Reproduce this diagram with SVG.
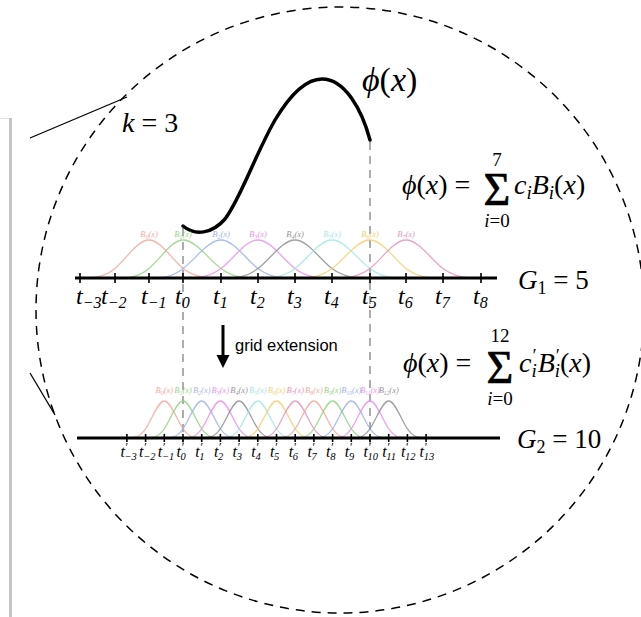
<svg xmlns="http://www.w3.org/2000/svg" xmlns:xlink="http://www.w3.org/1999/xlink" width="641" height="617" viewBox="0 0 641 617">
<style>
.m{font-family:"Liberation Serif","DejaVu Serif",serif;fill:#000}
.it{font-style:italic}
.axis{stroke:#000;stroke-width:3;fill:none}
.tick{stroke:#000;stroke-width:1.6}
.guide{stroke:#8a8a8a;stroke-width:1.4;stroke-dasharray:8 6;fill:none}
.c0{stroke:#f2a398;fill:#f2a398}.c1{stroke:#8fcf7a;fill:#8fcf7a}.c2{stroke:#98aee8;fill:#98aee8}.c3{stroke:#e58be8;fill:#e58be8}
.c4{stroke:#8a8a8a;fill:#8a8a8a}.c5{stroke:#9fe3e3;fill:#9fe3e3}.c6{stroke:#f2cc66;fill:#f2cc66}.c7{stroke:#e38fb8;fill:#e38fb8}
path.bs,use.bs{fill:none;stroke-width:1.3;opacity:0.8}
text.bl{font-family:"Liberation Serif","DejaVu Serif",serif;font-style:italic;font-size:8.5px;text-anchor:middle;stroke:none;opacity:0.9}
.tl{font-family:"Liberation Serif","DejaVu Serif",serif;font-style:italic;font-size:24px}
.tl2{font-family:"Liberation Serif","DejaVu Serif",serif;font-style:italic;font-size:16px}
.sig{font-family:"Liberation Serif","DejaVu Serif",serif;font-size:46px;text-anchor:middle;stroke:#000;stroke-width:0.7}
.lim{font-family:"Liberation Serif","DejaVu Serif",serif;font-size:19px;text-anchor:middle}
</style>
<defs>
<path id="bs2" d="M0,438 c6.233,0 12.467,0 18.7,-9.25 c6.233,-9.25 12.467,-27.75 18.7,-27.75 c6.233,0 12.467,18.5 18.7,27.75 c6.233,9.25 12.467,9.25 18.7,9.25"/>
</defs>

<g id="panel-edge">
<line x1="0" y1="118.5" x2="10" y2="118.5" stroke="#e2e2e2" stroke-width="1"/>
<line x1="10.5" y1="118" x2="10.5" y2="617" stroke="#c4c4c4" stroke-width="3"/>
</g>

<g id="zoom-circle">
<ellipse cx="340" cy="310" rx="304" ry="303" fill="none" stroke="#000" stroke-width="1.5" stroke-dasharray="9 7"/>
</g>

<g id="connectors">
<line x1="30" y1="138" x2="127" y2="97" stroke="#000" stroke-width="1.3"/>
<line x1="30" y1="373" x2="55" y2="415" stroke="#000" stroke-width="1.3"/>
<line class="guide" x1="183" y1="228" x2="183" y2="443"/>
<line class="guide" x1="370" y1="142" x2="370" y2="443"/>
</g>

<g id="phi-curve">
<path d="M183,226 C195,236 212,234 225,219 C240,200 255,155 275,120 C290,95 305,79 322,79 C345,79 362,110 370,140" fill="none" stroke="#000" stroke-width="3.5" stroke-linecap="round"/>
<text class="m" x="362" y="91" font-size="34"><tspan class="it">ϕ</tspan>(<tspan class="it">x</tspan>)</text>
</g>

<g id="k-label">
<text class="m" x="122" y="132" font-size="28"><tspan class="it">k</tspan> = 3</text>
</g>

<g id="basis-G1">
<path class="bs c0" d="M80,278 C91.7,278 103.3,278 115,268.5 C126.3,259 137.7,240 149,240 C160.3,240 171.7,259 183,268.5 C195.7,278 208.3,278 221,278"/>
<path class="bs c1" d="M115,278 C126.3,278 137.7,278 149,268.5 C160.3,259 171.7,240 183,240 C195.7,240 208.3,259 221,268.5 C233.3,278 245.7,278 258,278"/>
<path class="bs c2" d="M149,278 C160.3,278 171.7,278 183,268.5 C195.7,259 208.3,240 221,240 C233.3,240 245.7,259 258,268.5 C270.3,278 282.7,278 295,278"/>
<path class="bs c3" d="M183,278 C195.7,278 208.3,278 221,268.5 C233.3,259 245.7,240 258,240 C270.3,240 282.7,259 295,268.5 C307.3,278 319.7,278 332,278"/>
<path class="bs c4" d="M221,278 C233.3,278 245.7,278 258,268.5 C270.3,259 282.7,240 295,240 C307.3,240 319.7,259 332,268.5 C344.7,278 357.3,278 370,278"/>
<path class="bs c5" d="M258,278 C270.3,278 282.7,278 295,268.5 C307.3,259 319.7,240 332,240 C344.7,240 357.3,259 370,268.5 C382,278 394,278 406,278"/>
<path class="bs c6" d="M295,278 C307.3,278 319.7,278 332,268.5 C344.7,259 357.3,240 370,240 C382,240 394,259 406,268.5 C418.3,278 430.7,278 443,278"/>
<path class="bs c7" d="M332,278 C344.7,278 357.3,278 370,268.5 C382,259 394,240 406,240 C418.3,240 430.7,259 443,268.5 C455.7,278 468.3,278 481,278"/>
<text class="bl c0" x="149" y="237">B<tspan font-size="6" dy="2">0</tspan><tspan dy="-2">(x)</tspan></text>
<text class="bl c1" x="183" y="237">B<tspan font-size="6" dy="2">1</tspan><tspan dy="-2">(x)</tspan></text>
<text class="bl c2" x="221" y="237">B<tspan font-size="6" dy="2">2</tspan><tspan dy="-2">(x)</tspan></text>
<text class="bl c3" x="258" y="237">B<tspan font-size="6" dy="2">3</tspan><tspan dy="-2">(x)</tspan></text>
<text class="bl c4" x="295" y="237">B<tspan font-size="6" dy="2">4</tspan><tspan dy="-2">(x)</tspan></text>
<text class="bl c5" x="332" y="237">B<tspan font-size="6" dy="2">5</tspan><tspan dy="-2">(x)</tspan></text>
<text class="bl c6" x="370" y="237">B<tspan font-size="6" dy="2">6</tspan><tspan dy="-2">(x)</tspan></text>
<text class="bl c7" x="406" y="237">B<tspan font-size="6" dy="2">7</tspan><tspan dy="-2">(x)</tspan></text>
</g>

<g id="axis-G1">
<line class="axis" x1="75" y1="278" x2="497" y2="278"/>
<path class="tick" d="M80,273v10M115,273v10M149,273v10M183,273v10M221,273v10M258,273v10M295,273v10M332,273v10M370,273v10M406,273v10M443,273v10M481,273v10"/>
<text class="tl" x="76" y="304">t<tspan font-size="16" dy="4">−3</tspan></text>
<text class="tl" x="101" y="304">t<tspan font-size="16" dy="4">−2</tspan></text>
<text class="tl" x="141" y="304">t<tspan font-size="16" dy="4">−1</tspan></text>
<text class="tl" x="175" y="304">t<tspan font-size="16" dy="4">0</tspan></text>
<text class="tl" x="213" y="304">t<tspan font-size="16" dy="4">1</tspan></text>
<text class="tl" x="250" y="304">t<tspan font-size="16" dy="4">2</tspan></text>
<text class="tl" x="287" y="304">t<tspan font-size="16" dy="4">3</tspan></text>
<text class="tl" x="324" y="304">t<tspan font-size="16" dy="4">4</tspan></text>
<text class="tl" x="362" y="304">t<tspan font-size="16" dy="4">5</tspan></text>
<text class="tl" x="398" y="304">t<tspan font-size="16" dy="4">6</tspan></text>
<text class="tl" x="435" y="304">t<tspan font-size="16" dy="4">7</tspan></text>
<text class="tl" x="473" y="304">t<tspan font-size="16" dy="4">8</tspan></text>
<text class="m" x="518" y="289" font-size="27"><tspan class="it">G</tspan><tspan font-size="18" dy="5">1</tspan><tspan dy="-5"> = 5</tspan></text>
</g>

<g id="formula-G1">
<text class="m" x="402" y="194" font-size="28"><tspan class="it">ϕ</tspan>(<tspan class="it">x</tspan>) =</text>
<text class="sig" x="497" y="205">Σ</text>
<text class="lim" x="497" y="166">7</text>
<text class="lim" x="497" y="227"><tspan class="it">i</tspan>=0</text>
<text class="m it" x="514" y="194" font-size="28">c<tspan font-size="19" dy="5">i</tspan><tspan dy="-5">B</tspan><tspan font-size="19" dy="5">i</tspan><tspan dy="-5" font-style="normal">(</tspan>x<tspan font-style="normal">)</tspan></text>
</g>

<g id="grid-extension">
<line x1="223" y1="325" x2="223" y2="357" stroke="#000" stroke-width="3"/>
<polygon points="216.5,355 229.5,355 223,368" fill="#000"/>
<text x="235" y="351" font-family="Liberation Sans, Arial, sans-serif" font-size="16.5">grid extension</text>
</g>

<g id="formula-G2">
<text class="m" x="403" y="372" font-size="28"><tspan class="it">ϕ</tspan>(<tspan class="it">x</tspan>) =</text>
<text class="sig" x="500" y="383">Σ</text>
<text class="lim" x="500" y="342">12</text>
<text class="lim" x="500" y="405"><tspan class="it">i</tspan>=0</text>
<text class="m it" x="519" y="372" font-size="28">c<tspan font-size="18" dy="-10">′</tspan><tspan font-size="19" dx="-4" dy="15">i</tspan><tspan dy="-5" dx="1">B</tspan><tspan font-size="18" dy="-10">′</tspan><tspan font-size="19" dx="-4" dy="15">i</tspan><tspan dy="-5" font-style="normal">(</tspan>x<tspan font-style="normal">)</tspan></text>
</g>

<g id="basis-G2">
<use xlink:href="#bs2" class="bs c0" x="126.9"/>
<use xlink:href="#bs2" class="bs c1" x="145.6"/>
<use xlink:href="#bs2" class="bs c2" x="164.3"/>
<use xlink:href="#bs2" class="bs c3" x="183"/>
<use xlink:href="#bs2" class="bs c4" x="201.7"/>
<use xlink:href="#bs2" class="bs c5" x="220.4"/>
<use xlink:href="#bs2" class="bs c6" x="239.1"/>
<use xlink:href="#bs2" class="bs c7" x="257.8"/>
<use xlink:href="#bs2" class="bs c0" x="276.5"/>
<use xlink:href="#bs2" class="bs c1" x="295.2"/>
<use xlink:href="#bs2" class="bs c2" x="313.9"/>
<use xlink:href="#bs2" class="bs c3" x="332.6"/>
<use xlink:href="#bs2" class="bs c4" x="351.3"/>
<text class="bl c0" x="164.3" y="393">B<tspan font-size="6" dy="2">0</tspan><tspan dy="-2">(x)</tspan></text>
<text class="bl c1" x="183" y="393">B<tspan font-size="6" dy="2">1</tspan><tspan dy="-2">(x)</tspan></text>
<text class="bl c2" x="201.7" y="393">B<tspan font-size="6" dy="2">2</tspan><tspan dy="-2">(x)</tspan></text>
<text class="bl c3" x="220.4" y="393">B<tspan font-size="6" dy="2">3</tspan><tspan dy="-2">(x)</tspan></text>
<text class="bl c4" x="239.1" y="393">B<tspan font-size="6" dy="2">4</tspan><tspan dy="-2">(x)</tspan></text>
<text class="bl c5" x="257.8" y="393">B<tspan font-size="6" dy="2">5</tspan><tspan dy="-2">(x)</tspan></text>
<text class="bl c6" x="276.5" y="393">B<tspan font-size="6" dy="2">6</tspan><tspan dy="-2">(x)</tspan></text>
<text class="bl c7" x="295.2" y="393">B<tspan font-size="6" dy="2">7</tspan><tspan dy="-2">(x)</tspan></text>
<text class="bl c0" x="313.9" y="393">B<tspan font-size="6" dy="2">8</tspan><tspan dy="-2">(x)</tspan></text>
<text class="bl c1" x="332.6" y="393">B<tspan font-size="6" dy="2">9</tspan><tspan dy="-2">(x)</tspan></text>
<text class="bl c2" x="351.3" y="393">B<tspan font-size="5.5" dy="2">10</tspan><tspan dy="-2">(x)</tspan></text>
<text class="bl c3" x="370" y="393">B<tspan font-size="5.5" dy="2">11</tspan><tspan dy="-2">(x)</tspan></text>
<text class="bl c4" x="388.7" y="393">B<tspan font-size="5.5" dy="2">12</tspan><tspan dy="-2">(x)</tspan></text>
</g>

<g id="axis-G2">
<line class="axis" x1="77" y1="438" x2="500" y2="438"/>
<path class="tick" d="M126.9,434v8M145.6,434v8M164.3,434v8M183,434v8M201.7,434v8M220.4,434v8M239.1,434v8M257.8,434v8M276.5,434v8M295.2,434v8M313.9,434v8M332.6,434v8M351.3,434v8M370,434v8M388.7,434v8M407.4,434v8M426.1,434v8"/>
<text class="tl2" x="120.4" y="457">t<tspan font-size="12" dy="-6">′</tspan><tspan font-size="10.5" dx="-3" dy="9">−3</tspan></text>
<text class="tl2" x="139.1" y="457">t<tspan font-size="12" dy="-6">′</tspan><tspan font-size="10.5" dx="-3" dy="9">−2</tspan></text>
<text class="tl2" x="157.8" y="457">t<tspan font-size="12" dy="-6">′</tspan><tspan font-size="10.5" dx="-3" dy="9">−1</tspan></text>
<text class="tl2" x="176.5" y="457">t<tspan font-size="12" dy="-6">′</tspan><tspan font-size="10.5" dx="-3" dy="9">0</tspan></text>
<text class="tl2" x="195.2" y="457">t<tspan font-size="12" dy="-6">′</tspan><tspan font-size="10.5" dx="-3" dy="9">1</tspan></text>
<text class="tl2" x="213.9" y="457">t<tspan font-size="12" dy="-6">′</tspan><tspan font-size="10.5" dx="-3" dy="9">2</tspan></text>
<text class="tl2" x="232.6" y="457">t<tspan font-size="12" dy="-6">′</tspan><tspan font-size="10.5" dx="-3" dy="9">3</tspan></text>
<text class="tl2" x="251.3" y="457">t<tspan font-size="12" dy="-6">′</tspan><tspan font-size="10.5" dx="-3" dy="9">4</tspan></text>
<text class="tl2" x="270" y="457">t<tspan font-size="12" dy="-6">′</tspan><tspan font-size="10.5" dx="-3" dy="9">5</tspan></text>
<text class="tl2" x="288.7" y="457">t<tspan font-size="12" dy="-6">′</tspan><tspan font-size="10.5" dx="-3" dy="9">6</tspan></text>
<text class="tl2" x="307.4" y="457">t<tspan font-size="12" dy="-6">′</tspan><tspan font-size="10.5" dx="-3" dy="9">7</tspan></text>
<text class="tl2" x="326.1" y="457">t<tspan font-size="12" dy="-6">′</tspan><tspan font-size="10.5" dx="-3" dy="9">8</tspan></text>
<text class="tl2" x="344.8" y="457">t<tspan font-size="12" dy="-6">′</tspan><tspan font-size="10.5" dx="-3" dy="9">9</tspan></text>
<text class="tl2" x="363.5" y="457">t<tspan font-size="12" dy="-6">′</tspan><tspan font-size="10.5" dx="-3" dy="9">10</tspan></text>
<text class="tl2" x="382.2" y="457">t<tspan font-size="12" dy="-6">′</tspan><tspan font-size="10.5" dx="-3" dy="9">11</tspan></text>
<text class="tl2" x="400.9" y="457">t<tspan font-size="12" dy="-6">′</tspan><tspan font-size="10.5" dx="-3" dy="9">12</tspan></text>
<text class="tl2" x="419.6" y="457">t<tspan font-size="12" dy="-6">′</tspan><tspan font-size="10.5" dx="-3" dy="9">13</tspan></text>
<text class="m" x="517" y="448" font-size="27"><tspan class="it">G</tspan><tspan font-size="18" dy="5">2</tspan><tspan dy="-5"> = 10</tspan></text>
</g>
</svg>
